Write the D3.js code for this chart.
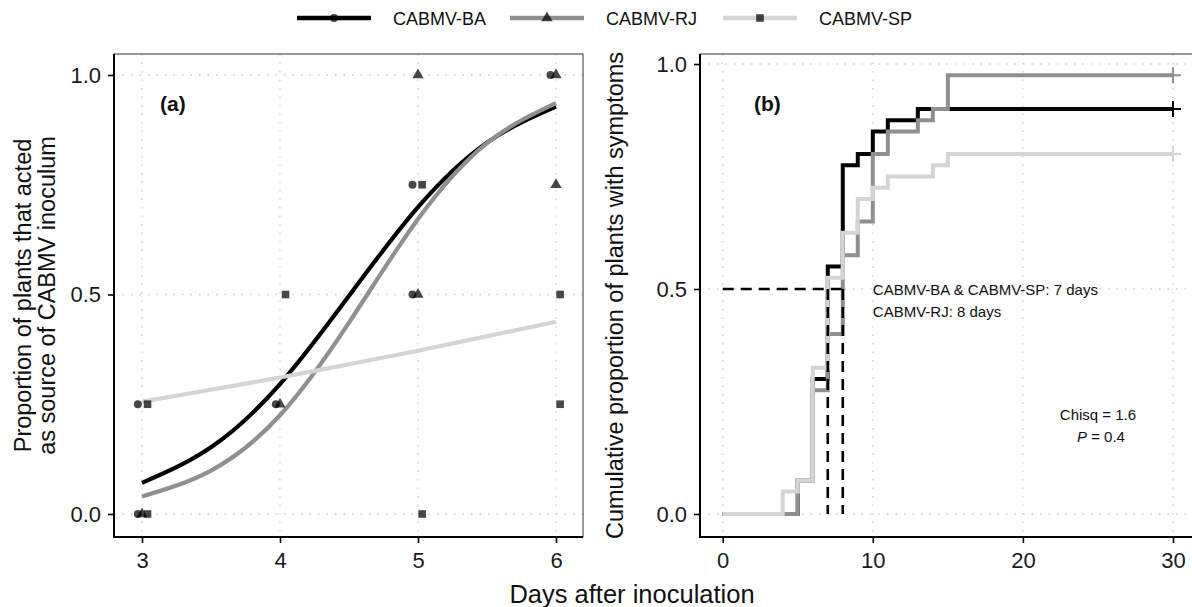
<!DOCTYPE html>
<html>
<head>
<meta charset="utf-8">
<script src="https://cdn.jsdelivr.net/npm/d3@7"></script>
<style>
  body { margin: 0; background: #fff; }
  svg { display: block; font-family: "Liberation Sans", Arial, Helvetica, sans-serif; }
</style>
</head>
<body>
<svg id="chart" width="1192" height="607"></svg>
<script>
// --- series meta ---
const seriesNames = ["CABMV-BA", "CABMV-RJ", "CABMV-SP"];
const lineColors = ["#000000", "#8f8f8f", "#d4d4d4"];
const pointShapes = ["circle", "triangle", "square"];

// --- panel (a): observed proportions (jittered days as read) ---
const baDays = [2.97, 2.97, 3.97, 4.96, 4.96, 5.96];
const baProp = [0, 0.25, 0.25, 0.5, 0.75, 1];
const rjDays = [3, 4, 5, 5, 6, 6];
const rjProp = [0, 0.25, 0.5, 1, 0.75, 1];
const spDays = [3.04, 3.04, 4.04, 5.03, 5.03, 6.03, 6.03];
const spProp = [0, 0.25, 0.5, 0, 0.75, 0.25, 0.5];

// --- panel (a): fitted curves ---
const fitDays = [3, 3.5, 4, 4.5, 5, 5.5, 6];
const baFit = [0.071, 0.152, 0.296, 0.497, 0.699, 0.846, 0.928];
const rjFit = [0.040, 0.099, 0.225, 0.436, 0.672, 0.845, 0.936];
const spFit = [0.256, 0.283, 0.311, 0.341, 0.372, 0.405, 0.438];

// --- panel (b): cumulative proportion steps ---
const baTimes = [0, 5, 6, 7, 8, 9, 10, 11, 13, 30];
const baCum = [0, 0.075, 0.3, 0.55, 0.775, 0.8, 0.85, 0.875, 0.9, 0.9];
const rjTimes = [0, 5, 6, 7, 8, 9, 10, 11, 13, 14, 15, 30];
const rjCum = [0, 0.075, 0.275, 0.4, 0.575, 0.65, 0.8, 0.85, 0.875, 0.9, 0.975, 0.975];
const spTimes = [0, 4, 5, 6, 7, 8, 9, 10, 11, 14, 15, 30];
const spCum = [0, 0.05, 0.075, 0.325, 0.525, 0.625, 0.7, 0.725, 0.75, 0.775, 0.8, 0.8];
const medianDays = [7, 8];
const medianLevel = 0.5;

// --- ticks ---
const aDayTicks = [3, 4, 5, 6];
const bDayTicks = [0, 10, 20, 30];
const propTicks = [0, 0.5, 1];

const svg = d3.select("#chart");
const fmt = d3.format(".1f");

// panel boxes
const A = { left: 114, right: 583, top: 54, bottom: 537 };
const B = { left: 700, right: 1196, top: 54, bottom: 537 };

const xA = d3.scaleLinear().domain([3, 6]).range([142, 556]);
const yA = d3.scaleLinear().domain([0, 1]).range([514, 75]);
const xB = d3.scaleLinear().domain([0, 30]).range([722.7, 1173]);
const yB = d3.scaleLinear().domain([0, 1]).range([514, 64]);

function drawFrame(box, x, y, xTicks, xFmt) {
    const g = svg.append("g");
    // dotted grid
    g.selectAll("line.gx").data(xTicks).join("line")
        .attr("x1", d => x(d)).attr("x2", d => x(d))
        .attr("y1", box.top).attr("y2", box.bottom)
        .attr("stroke", "#cfcfcf").attr("stroke-width", 1.3).attr("stroke-dasharray", "1.5,7");
    g.selectAll("line.gy").data(propTicks).join("line")
        .attr("x1", box.left).attr("x2", box.right)
        .attr("y1", d => y(d)).attr("y2", d => y(d))
        .attr("stroke", "#cfcfcf").attr("stroke-width", 1.3).attr("stroke-dasharray", "1.5,7");
    // border
    g.append("rect").attr("x", box.left).attr("y", box.top)
        .attr("width", box.right - box.left).attr("height", box.bottom - box.top)
        .attr("fill", "none").attr("stroke", "#333").attr("stroke-width", 1);

    const ax = g.append("g").attr("transform", `translate(0,${box.bottom})`)
        .call(d3.axisBottom(x).tickValues(xTicks).tickFormat(xFmt).tickSize(6).tickPadding(9));
    const ay = g.append("g").attr("transform", `translate(${box.left},0)`)
        .call(d3.axisLeft(y).tickValues(propTicks).tickFormat(fmt).tickSize(6).tickPadding(7));
    [ax, ay].forEach(a => {
        a.select(".domain").remove();
        a.selectAll(".tick line").attr("stroke", "#000").attr("stroke-width", 1.6);
        a.selectAll(".tick text").attr("font-size", 22).attr("fill", "#1a1a1a")
            .attr("font-family", "Liberation Sans, Arial, sans-serif");
    });
    // axis lines
    g.append("line").attr("x1", box.left).attr("x2", box.left).attr("y1", box.top).attr("y2", box.bottom + 1)
        .attr("stroke", "#000").attr("stroke-width", 2);
    g.append("line").attr("x1", box.left - 1).attr("x2", box.right).attr("y1", box.bottom).attr("y2", box.bottom)
        .attr("stroke", "#000").attr("stroke-width", 2);
    return g;
}

drawFrame(A, xA, yA, aDayTicks, d3.format("d"));
drawFrame(B, xB, yB, bDayTicks, d3.format("d"));

// ---------- panel (a) ----------
const gA = svg.append("g");
const fitLine = d3.line().x(d => xA(d[0])).y(d => yA(d[1])).curve(d3.curveNatural);
[baFit, rjFit, spFit].forEach((vals, i) => {
    gA.append("path").datum(fitDays.map((d, k) => [d, vals[k]]))
        .attr("d", fitLine).attr("fill", "none")
        .attr("stroke", lineColors[i]).attr("stroke-width", 4.2);
});

const symbolOf = {
    circle: d3.symbol(d3.symbolCircle, 50),
    triangle: d3.symbol(d3.symbolTriangle, 55),
    square: d3.symbol(d3.symbolSquare, 58)
};
[[baDays, baProp], [rjDays, rjProp], [spDays, spProp]].forEach(([days, props], i) => {
    gA.selectAll(null).data(days.map((d, k) => [d, props[k]])).join("path")
        .attr("d", symbolOf[pointShapes[i]])
        .attr("transform", d => `translate(${xA(d[0])},${yA(d[1])})`)
        .attr("fill", "#000").attr("fill-opacity", 0.72);
});

gA.append("text").attr("x", 160).attr("y", 111).attr("font-size", 21).attr("font-weight", "bold")
    .attr("fill", "#111").text("(a)");

// ---------- panel (b) ----------
const gB = svg.append("g");
const stepLine = d3.line().x(d => xB(d[0])).y(d => yB(d[1])).curve(d3.curveStepAfter);
[[baTimes, baCum], [rjTimes, rjCum], [spTimes, spCum]].forEach(([t, v], i) => {
    const pts = t.map((d, k) => [d, v[k]]);
    gB.append("path").datum(pts).attr("d", stepLine).attr("fill", "none")
        .attr("stroke", lineColors[i]).attr("stroke-width", 4);
    // censor mark
    const last = pts[pts.length - 1];
    const cx = xB(last[0]), cy = yB(last[1]);
    gB.append("path").attr("d", `M${cx - 8},${cy}H${cx + 8}M${cx},${cy - 8}V${cy + 8}`)
        .attr("stroke", lineColors[i]).attr("stroke-width", 2);
});

// median guides
gB.append("line").attr("x1", xB(0)).attr("x2", xB(d3.max(medianDays)))
    .attr("y1", yB(medianLevel)).attr("y2", yB(medianLevel))
    .attr("stroke", "#000").attr("stroke-width", 2.6).attr("stroke-dasharray", "11,7");
gB.selectAll(null).data(medianDays).join("line")
    .attr("x1", d => xB(d)).attr("x2", d => xB(d))
    .attr("y1", yB(medianLevel)).attr("y2", yB(0))
    .attr("stroke", "#000").attr("stroke-width", 2.6).attr("stroke-dasharray", "11,7");

gB.append("text").attr("x", 754).attr("y", 111).attr("font-size", 21).attr("font-weight", "bold")
    .attr("fill", "#111").text("(b)");

gB.append("text").attr("x", xB(10)).attr("y", 295).attr("font-size", 15).attr("fill", "#111")
    .text("CABMV-BA & CABMV-SP: 7 days");
gB.append("text").attr("x", xB(10)).attr("y", 317).attr("font-size", 15).attr("fill", "#111")
    .text("CABMV-RJ: 8 days");
gB.append("text").attr("x", xB(25)).attr("y", 420).attr("font-size", 15).attr("fill", "#111")
    .attr("text-anchor", "middle").text("Chisq = 1.6");
const pText = gB.append("text").attr("x", xB(25) + 3).attr("y", 442).attr("font-size", 15).attr("fill", "#111")
    .attr("text-anchor", "middle");
pText.append("tspan").attr("font-style", "italic").text("P");
pText.append("tspan").text(" = 0.4");

// ---------- titles ----------
svg.append("text").attr("transform", "translate(30.5,295.5) rotate(-90)")
    .attr("text-anchor", "middle").attr("font-size", 23.5).attr("fill", "#111")
    .text("Proportion of plants that acted");
svg.append("text").attr("transform", "translate(55,295.5) rotate(-90)")
    .attr("text-anchor", "middle").attr("font-size", 23.5).attr("fill", "#111")
    .text("as source of CABMV inoculum");
svg.append("text").attr("transform", "translate(623,295.5) rotate(-90)")
    .attr("text-anchor", "middle").attr("font-size", 23.5).attr("fill", "#111")
    .text("Cumulative proportion of plants with symptoms");
svg.append("text").attr("x", 632).attr("y", 603).attr("text-anchor", "middle")
    .attr("font-size", 25.5).attr("fill", "#111").text("Days after inoculation");

// ---------- legend ----------
const legendX = [297, 510, 723];
const leg = svg.append("g");
seriesNames.forEach((name, i) => {
    const x0 = legendX[i];
    leg.append("line").attr("x1", x0).attr("x2", x0 + 74).attr("y1", 18).attr("y2", 18)
        .attr("stroke", lineColors[i]).attr("stroke-width", 4.5);
    leg.append("path").attr("d", symbolOf[pointShapes[i]])
        .attr("transform", `translate(${x0 + 37},18)`).attr("fill", "#000").attr("fill-opacity", 0.72);
    leg.append("text").attr("x", x0 + 96).attr("y", 24.5).attr("font-size", 18).attr("fill", "#111").text(name);
});
</script>
</body>
</html>
